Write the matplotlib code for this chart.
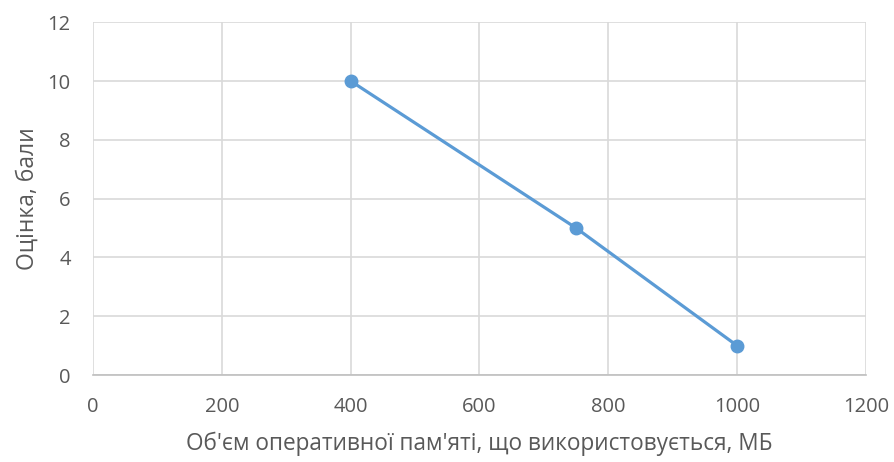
import matplotlib
matplotlib.use("Agg")
import matplotlib.pyplot as plt

# memory used (MB) vs score
memory_mb = [400, 750, 1000]
score = [10, 5, 1]
x_ticks = [0, 200, 400, 600, 800, 1000, 1200]
y_ticks = [0, 2, 4, 6, 8, 10, 12]

plt.rcParams['font.family'] = ['Open Sans', 'DejaVu Sans']

fig = plt.figure(figsize=(8.94, 4.62), dpi=100)
ax = fig.add_axes([0.104, 0.188, 0.8647, 0.764])

ax.plot(memory_mb, score, color='#5B9BD5', lw=2.3, marker='o', ms=9, zorder=3)

ax.set_xlim(0, 1200)
ax.set_ylim(0, 12)
ax.set_xticks(x_ticks)
ax.set_yticks(y_ticks)
ax.grid(True, color='#D9D9D9', lw=1.2)
ax.set_axisbelow(True)

for side in ['top', 'right', 'left']:
    ax.spines[side].set_visible(False)
ax.spines['bottom'].set_color('#BFBFBF')
ax.spines['bottom'].set_linewidth(1.2)
ax.tick_params(length=0, labelsize=14.5, colors='#595959')
ax.tick_params(axis='x', pad=16)
ax.tick_params(axis='y', pad=16)

ax.set_xlabel("Об'єм оперативної пам'яті, що використовується, МБ",
              fontsize=16.3, color='#595959', labelpad=10)
ax.set_ylabel('Оцінка, бали', fontsize=16.5, color='#595959', labelpad=6)

fig.savefig('out.png', dpi=100)
